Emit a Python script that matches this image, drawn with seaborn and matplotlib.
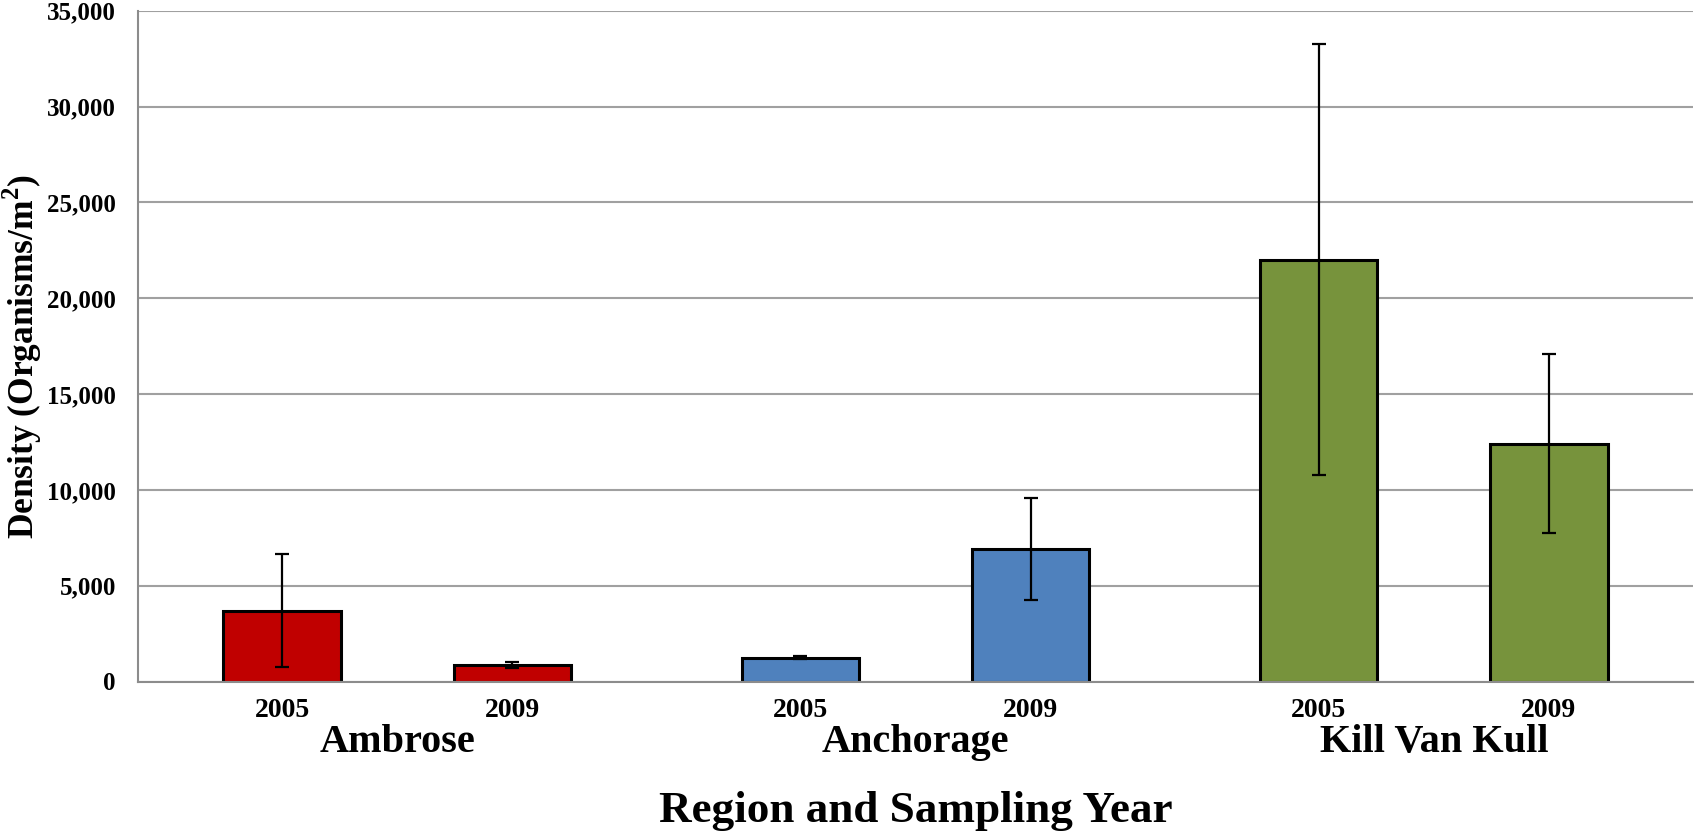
import pandas as pd
import numpy as np
import matplotlib
matplotlib.use("Agg")
import matplotlib.pyplot as plt
import seaborn as sns
from matplotlib.ticker import FuncFormatter, FixedLocator

# Data
regions = ['Ambrose', 'Anchorage', 'Kill Van Kull']
years = ['2005', '2009']
density_2005 = [3700, 1250, 22000]
density_2009 = [850, 6900, 12400]
err_2005 = [2950, 60, 11250]
err_2009 = [160, 2650, 4670]
region_colors = {'Ambrose': '#C00000', 'Anchorage': '#4F81BD', 'Kill Van Kull': '#77933C'}

df = pd.DataFrame({
    'Region': regions * 2,
    'Year': ['2005'] * 3 + ['2009'] * 3,
    'Density': density_2005 + density_2009,
    'Err': err_2005 + err_2009,
})

sns.set_style("white")
plt.rcParams['font.family'] = ['Liberation Serif', 'DejaVu Serif']
plt.rcParams['font.weight'] = 'bold'
plt.rcParams['text.color'] = 'black'
plt.rcParams['xtick.labelcolor'] = 'black'
plt.rcParams['ytick.labelcolor'] = 'black'
plt.rcParams['mathtext.fontset'] = 'custom'
plt.rcParams['mathtext.bf'] = 'Liberation Serif:bold'
plt.rcParams['mathtext.rm'] = 'Liberation Serif:bold'

grey = '#8C8C8C'
fig = plt.figure(figsize=(16.96, 8.34), dpi=100)
ax = fig.add_axes([138 / 1696, 1 - 681.5 / 834, 1555 / 1696, 670.7 / 834])

sns.barplot(data=df, x='Region', y='Density', hue='Year', order=regions, hue_order=years,
            width=0.888, gap=0.49, errorbar=None, legend=False, ax=ax,
            edgecolor='black', linewidth=2.2, zorder=2)

# recolour each bar by region and add the error bars
for p in ax.patches:
    xc = p.get_x() + p.get_width() / 2
    i = int(round(xc))
    yr = '2005' if xc < i else '2009'
    p.set_facecolor(region_colors[regions[i]])
    row = df[(df['Region'] == regions[i]) & (df['Year'] == yr)].iloc[0]
    ax.errorbar(xc, row['Density'], yerr=row['Err'], color='black', lw=1.6,
                capsize=5, capthick=1.6, zorder=3)

ax.set_xlim(-0.5, 2.5)
ax.set_ylim(0, 35000)
ax.yaxis.set_major_locator(FixedLocator(np.arange(0, 35001, 5000)))
ax.yaxis.set_major_formatter(FuncFormatter(lambda v, _: f'{v:,.0f}'))
ax.grid(axis='y', color='#A0A0A0', lw=1.5, zorder=0)
ax.set_axisbelow(True)

# year labels under bars, minor ticks at group boundaries
centres = sorted(p.get_x() + p.get_width() / 2 for p in ax.patches)
ax.set_xticks(centres)
ax.set_xticklabels(years * 3)
ax.set_xticks([-0.5, 0.5, 1.5, 2.5], minor=True)
ax.tick_params(axis='x', which='major', length=0, pad=12, labelsize=20)
ax.tick_params(axis='x', which='minor', length=8, width=1.3, color=grey, direction='out')
ax.tick_params(axis='y', length=5, width=1.3, color=grey, direction='out', pad=11, labelsize=18)
for lab in ax.get_xticklabels() + ax.get_yticklabels():
    lab.set_fontweight('bold')

for s in ['top', 'right']:
    ax.spines[s].set_visible(False)
for s in ['left', 'bottom']:
    ax.spines[s].set_color(grey)
    ax.spines[s].set_linewidth(1.5)
    ax.spines[s].set_zorder(4)

for i, r in enumerate(regions):
    ax.text(i, -0.105, r, transform=ax.get_xaxis_transform(), ha='center', va='baseline',
            fontsize=29, fontweight='bold')
ax.text(0.5, -0.209, 'Region and Sampling Year', transform=ax.transAxes, ha='center',
        va='baseline', fontsize=32.5, fontweight='bold')
ax.set_xlabel('')
ax.set_ylabel('')
fig.text(22 / 1696, 1 - 356.5 / 834, r'Density (Organisms/m$^{\mathbf{2}}$)', rotation=90,
         ha='center', va='center', fontsize=25.5, fontweight='bold')

fig.savefig('out.png', dpi=100)
